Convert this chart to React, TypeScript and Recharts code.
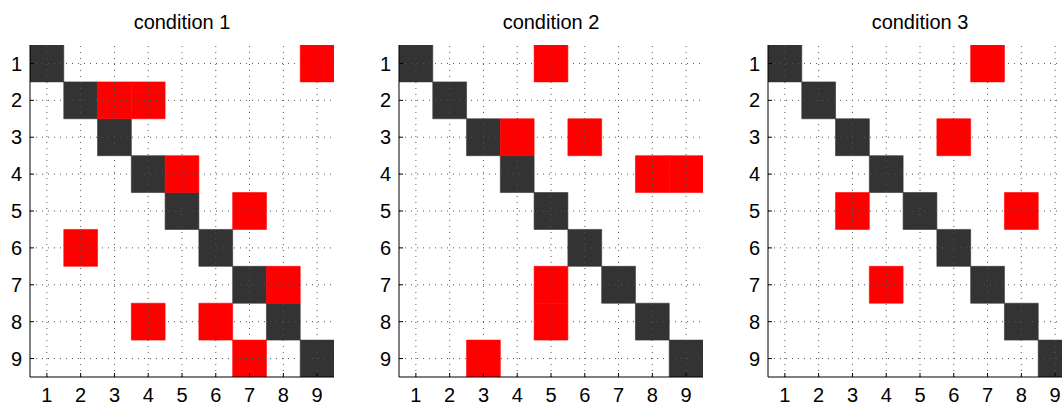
import React from 'react';
import { ScatterChart, Scatter, XAxis, YAxis, ReferenceArea, ReferenceLine } from 'recharts';

// tick labels / categories
const positions = [1, 2, 3, 4, 5, 6, 7, 8, 9];
const titles = ['condition 1', 'condition 2', 'condition 3'];

// [row, col] of the red cells in each condition
const condition1Hits: [number, number][] = [[1, 9], [2, 3], [2, 4], [4, 5], [5, 7], [6, 2], [7, 8], [8, 4], [8, 6], [9, 7]];
const condition2Hits: [number, number][] = [[1, 5], [3, 4], [3, 6], [4, 8], [4, 9], [7, 5], [8, 5], [9, 3]];
const condition3Hits: [number, number][] = [[1, 7], [3, 6], [5, 3], [5, 8], [7, 4]];

const hitsByCondition = [condition1Hits, condition2Hits, condition3Hits];

const FONT = '"Liberation Sans", Arial, Helvetica, sans-serif';
const DARK = '#333333';
const RED = '#ff0000';

const BottomTick = (props: any) => (
  <text x={props.x} y={props.y} dy="0.71em" textAnchor="middle" fill="#000" fontSize={20} fontFamily={FONT}>
    {props.payload.value}
  </text>
);

const LeftTick = (props: any) => (
  <text x={props.x} y={props.y} dy="0.355em" textAnchor="end" fill="#000" fontSize={20} fontFamily={FONT}>
    {props.payload.value}
  </text>
);

const Panel: React.FC<{ title: string; hits: [number, number][] }> = ({ title, hits }) => {
  const diag = positions.map(p => ({ row: p, col: p }));
  const red = hits.map(([row, col]) => ({ row, col }));

  return (
    <div style={{ position: 'relative', width: 369, height: 405 }}>
      <div
        style={{
          position: 'absolute', left: 30, width: 304, top: 12, textAlign: 'center',
          fontFamily: FONT, fontSize: 20, lineHeight: '20px', color: '#000',
        }}
      >
        {title}
      </div>
      <ScatterChart width={369} height={405} margin={{ top: 45, right: 35, bottom: 0, left: 0 }}>
        <XAxis xAxisId="b" dataKey="col" type="number" domain={[0.5, 9.5]} ticks={positions} interval={0}
          allowDataOverflow height={28} tickSize={-4} tickMargin={15} tick={<BottomTick />}
          axisLine={{ stroke: '#000' }} tickLine={{ stroke: '#000' }} />
        <XAxis xAxisId="t" orientation="top" dataKey="col" type="number" domain={[0.5, 9.5]} ticks={positions}
          interval={0} allowDataOverflow height={0} tickSize={-4} tick={false}
          axisLine={{ stroke: '#000' }} tickLine={{ stroke: '#000' }} />
        <YAxis yAxisId="l" dataKey="row" type="number" domain={[0.5, 9.5]} ticks={positions} interval={0}
          reversed allowDataOverflow width={30} tickSize={-4} tickMargin={12} tick={<LeftTick />}
          axisLine={{ stroke: '#000' }} tickLine={{ stroke: '#000' }} />
        <YAxis yAxisId="r" orientation="right" dataKey="row" type="number" domain={[0.5, 9.5]} ticks={positions}
          interval={0} reversed allowDataOverflow width={0} tickSize={-4} tick={false}
          axisLine={{ stroke: '#000' }} tickLine={{ stroke: '#000' }} />

        {diag.map(c => (
          <ReferenceArea key={`d${c.row}`} xAxisId="b" yAxisId="l" x1={c.col - 0.5} x2={c.col + 0.5}
            y1={c.row - 0.5} y2={c.row + 0.5} fill={DARK} fillOpacity={1} stroke={DARK} strokeWidth={0.6}
            ifOverflow="hidden" />
        ))}
        {red.map(c => (
          <ReferenceArea key={`r${c.row}-${c.col}`} xAxisId="b" yAxisId="l" x1={c.col - 0.5} x2={c.col + 0.5}
            y1={c.row - 0.5} y2={c.row + 0.5} fill={RED} fillOpacity={1} stroke={RED} strokeWidth={0.6}
            ifOverflow="hidden" />
        ))}

        {positions.map(p => (
          <ReferenceLine key={`gx${p}`} xAxisId="b" yAxisId="l" x={p} stroke="#555" strokeWidth={1} strokeDasharray="1 5" />
        ))}
        {positions.map(p => (
          <ReferenceLine key={`gy${p}`} xAxisId="b" yAxisId="l" y={p} stroke="#555" strokeWidth={1} strokeDasharray="1 5" />
        ))}

        <Scatter xAxisId="b" yAxisId="l" data={diag} shape={() => <g />} isAnimationActive={false} />
      </ScatterChart>
    </div>
  );
};

export default function App() {
  return (
    <>
      <style>{'body{margin:0}'}</style>
      <div style={{ position: 'relative', width: 1062, height: 405, overflow: 'hidden', background: '#fff' }}>
        {titles.map((t, i) => (
          <div key={t} style={{ position: 'absolute', left: 369 * i, top: 0 }}>
            <Panel title={t} hits={hitsByCondition[i]} />
          </div>
        ))}
      </div>
    </>
  );
}
